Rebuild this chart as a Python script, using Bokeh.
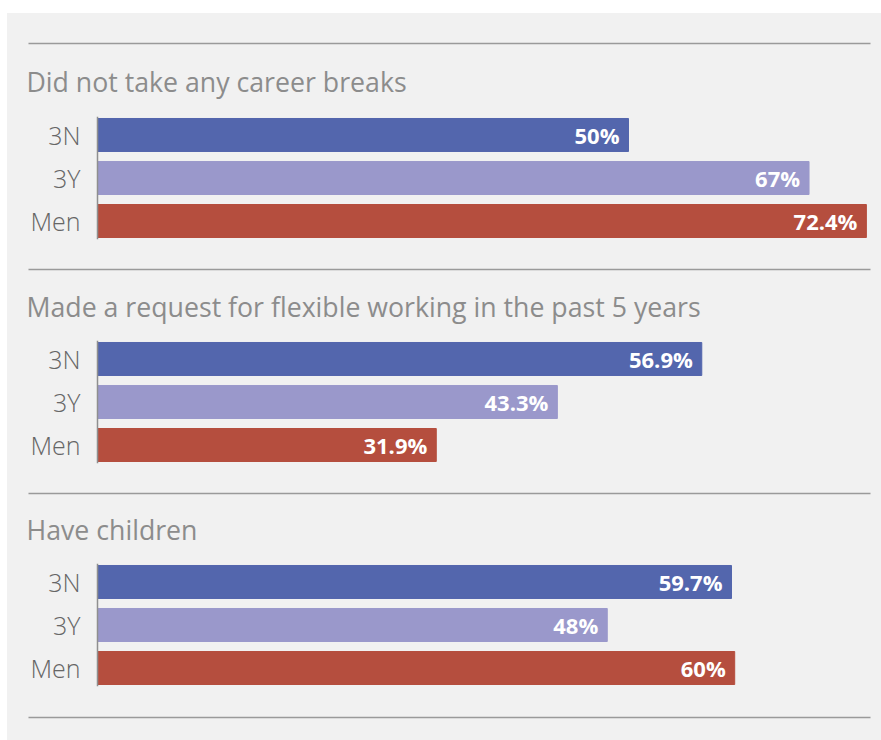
from bokeh.plotting import figure
from bokeh.models import (ColumnDataSource, FactorRange, Range1d, Title, LinearAxis,
                          FixedTicker, Spacer)
from bokeh.layouts import column, row
from bokeh.core.properties import value
from bokeh.embed import file_html
from bokeh.resources import INLINE

# ---- data ----
groups = ["3N", "3Y", "Men"]
section_titles = [
    "Did not take any career breaks",
    "Made a request for flexible working in the past 5 years",
    "Have children",
]
career_breaks = [50, 67, 72.4]
flexible_working = [56.9, 43.3, 31.9]
have_children = [59.7, 48, 60]
series = [career_breaks, flexible_working, have_children]
group_colors = ["#5366ad", "#9a98cb", "#b54e3e"]

BG = "#f1f1f1"
LINE = "#9a9a9a"
FONT = "Open Sans"
W = 874
X0, X1 = -6.497, 72.787

def rule_axis():
    return LinearAxis(ticker=FixedTicker(ticks=[]), axis_line_color=LINE, axis_line_width=1.5,
                      major_tick_line_color=None, minor_tick_line_color=None,
                      major_tick_out=0, minor_tick_out=0, major_tick_in=0, minor_tick_in=0,
                      major_label_text_font_size="0px", major_label_standoff=0)

def section(title, vals, height, top, bottom, standoff):
    src = ColumnDataSource(dict(cat=groups, val=vals, color=group_colors,
                                label=[f"{v:g}%" for v in vals]))
    p = figure(width=W, height=height, output_backend="svg", toolbar_location=None,
               x_range=Range1d(X0, X1),
               y_range=FactorRange(factors=groups[::-1], range_padding=-0.14 / 3,
                                   range_padding_units="percent"),
               x_axis_location=None, y_axis_location="left",
               min_border_left=21, min_border_right=11,
               min_border_top=top, min_border_bottom=bottom,
               styles={"background-color": BG})
    p.background_fill_color = BG
    p.border_fill_color = BG
    p.outline_line_color = None
    p.grid.visible = False
    p.hbar(y="cat", right="val", left=0, height=33 / 43, color="color", source=src)
    p.text(x="val", y="cat", text="label", x_offset=-9, text_align="right",
           text_baseline="middle", text_color="white", text_font=value(FONT),
           text_font_style="bold", text_font_size="22px", source=src)
    ax = p.yaxis[0]
    ax.fixed_location = 0
    ax.axis_line_color = "#8f8f8f"
    ax.axis_line_width = 1.5
    ax.major_tick_line_color = None
    ax.minor_tick_line_color = None
    ax.major_tick_out = 0
    ax.major_label_standoff = 17
    ax.major_label_text_font = "Open Sans Light, Open Sans"
    ax.major_label_text_font_size = "25px"
    ax.major_label_text_color = "#666666"
    p.add_layout(Title(text=title, align="left", offset=-2, text_font=FONT,
                       text_font_size="26.7px", text_font_style="normal",
                       text_color="#8c8c8c", standoff=standoff), "above")
    p.add_layout(rule_axis(), "above")
    return p

f1 = section(section_titles[0], series[0], 252, 103, 26, 34)
f2 = section(section_titles[1], series[1], 224, 75, 26, 32)
f3 = section(section_titles[2], series[2], 223, 74, 26, 31)

foot = figure(width=W, height=28, output_backend="svg", toolbar_location=None,
              x_range=Range1d(X0, X1), y_range=Range1d(0, 1),
              x_axis_location=None, y_axis_location=None,
              min_border_left=21, min_border_right=11, min_border_top=5, min_border_bottom=0,
              styles={"background-color": BG})
foot.background_fill_color = BG
foot.border_fill_color = BG
foot.outline_line_color = None
foot.grid.visible = False
foot.add_layout(rule_axis(), "above")

panel = column(f1, f2, f3, foot, styles={"background-color": BG})
layout = row(Spacer(width=7, height=740),
             column(Spacer(width=W, height=13), panel))

open("out.html", "w").write(file_html(layout, INLINE))
